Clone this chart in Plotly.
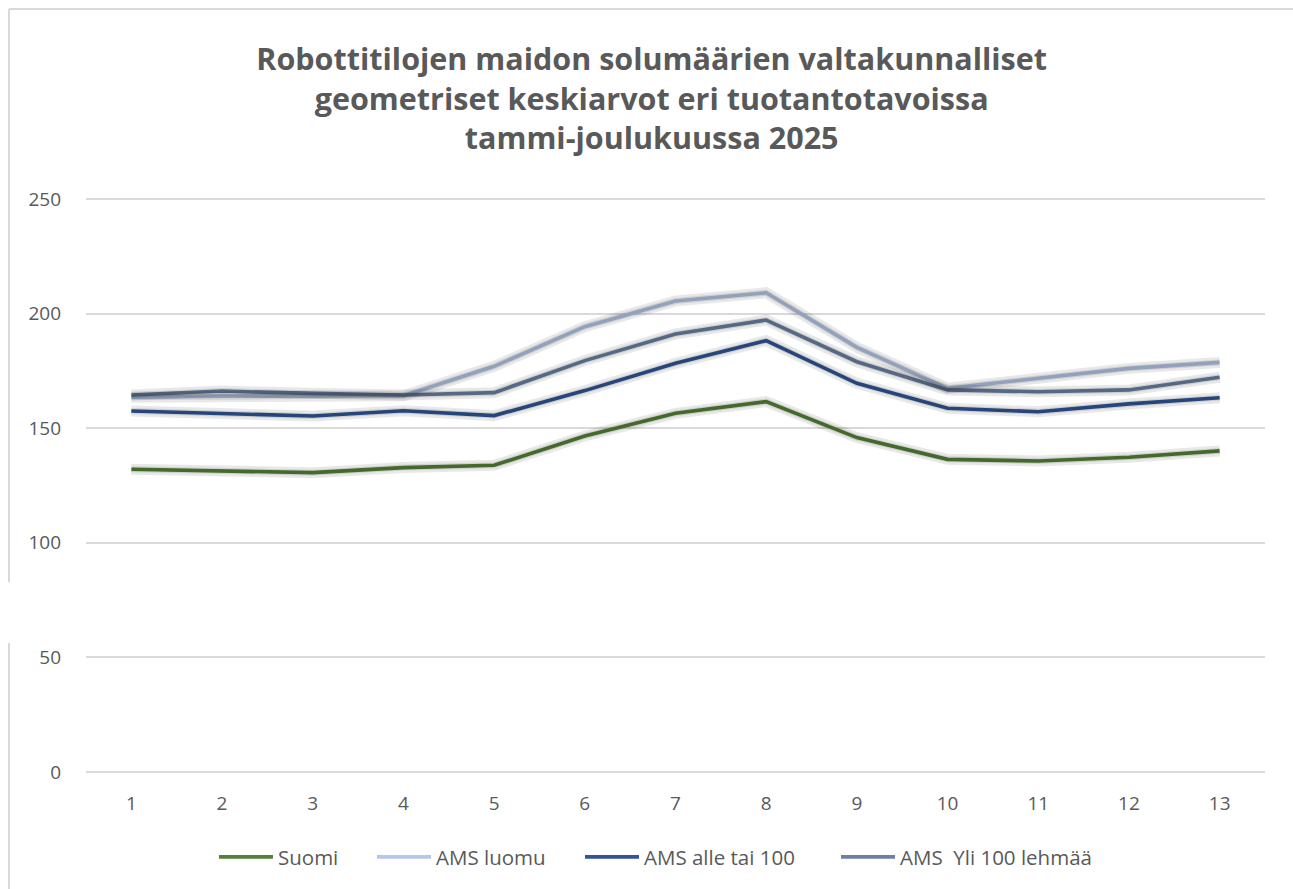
import plotly.graph_objects as go

W, H = 1293, 889

months = list(range(1, 14))
suomi = [132.1, 131.3, 130.6, 132.8, 133.8, 146.6, 156.5, 161.6, 145.9, 136.4, 135.7, 137.3, 140.1]
ams_luomu = [163.5, 164.0, 164.0, 164.2, 177.0, 194.3, 205.5, 209.1, 185.3, 167.4, 171.8, 176.1, 178.7]
ams_alle_100 = [157.5, 156.5, 155.3, 157.6, 155.5, 166.4, 178.3, 188.2, 169.6, 158.7, 157.2, 160.6, 163.3]
ams_yli_100 = [164.5, 166.2, 165.2, 164.5, 165.5, 179.5, 191.1, 197.2, 179.0, 166.7, 165.9, 166.7, 172.2]
y_ticks = [0, 50, 100, 150, 200, 250]

series = [
    ("Suomi", suomi, "#548235"),
    ("AMS luomu", ams_luomu, "#b4c7e7"),
    ("AMS alle tai 100", ams_alle_100, "#2f5597"),
    ("AMS  Yli 100 lehmää", ams_yli_100, "#6a81a3"),
]
legend_left_px = [218, 376, 584, 840]

title_text = ("Robottitilojen maidon solumäärien valtakunnalliset<br>"
              "geometriset keskiarvot eri tuotantotavoissa<br>"
              "tammi-joulukuussa 2025")

# main plot area in pixels: x 86..1265, value 250 at y=199, value 0 at y=772
PPU = (772 - 199) / 250.0
EXT = 3  # px of extra range so that the 0 and 250 grid lines are drawn
EU = EXT / PPU
L, T = 86, 199 - EXT
SX, SY = 3, 4  # shadow offset
Rm = W - 1265 - SX
Bm = H - (772 + EXT) - SY
pw = W - L - Rm
ph = H - T - Bm


def px(x):
    return (x - L) / pw


def py(y):
    return 1 - (y - T) / ph


fig = go.Figure()

# soft shadows on an offset overlay axis pair
for name, vals, col in series:
    fig.add_trace(go.Scatter(x=months, y=vals, mode="lines", xaxis="x2", yaxis="y2",
                             line=dict(color="rgba(0,0,0,0.09)", width=11),
                             showlegend=False, hoverinfo="skip"))
    fig.add_trace(go.Scatter(x=months, y=vals, mode="lines", xaxis="x2", yaxis="y2",
                             line=dict(color="rgba(0,0,0,0.10)", width=6),
                             showlegend=False, hoverinfo="skip"))

legend_font = dict(family="Open Sans, sans-serif", size=20.5, color="#595959")
legends = {}
for i, (name, vals, col) in enumerate(series):
    lg = "legend" if i == 0 else f"legend{i + 1}"
    fig.add_trace(go.Scatter(x=months, y=vals, mode="lines", name=name, legend=lg,
                             line=dict(color=col, width=3.6)))
    legends[lg] = dict(orientation="h", x=px(legend_left_px[i] - 4), xanchor="left",
                       y=py(857), yanchor="middle", font=legend_font, itemwidth=54,
                       bgcolor="rgba(0,0,0,0)", borderwidth=0)

axis_font = dict(family="Open Sans, sans-serif", size=19, color="#595959")
yr = [y_ticks[0] - EU, y_ticks[-1] + EU]

fig.update_layout(
    width=W, height=H,
    paper_bgcolor="white", plot_bgcolor="rgba(0,0,0,0)",
    margin=dict(l=L, r=Rm, t=T, b=Bm, pad=0),
    title=dict(text=title_text, x=0.504, xanchor="center", y=1 - 70 / H, yanchor="middle",
               font=dict(family="Open Sans, sans-serif", size=30.5, color="#595959", weight="bold")),
    xaxis=dict(range=[0.5, 13.5], tickvals=months, ticktext=[str(m) for m in months],
               showgrid=False, zeroline=False, showline=False, ticks="",
               tickfont=axis_font, ticklabelstandoff=int(18 - EXT), domain=[0, px(1265)]),
    yaxis=dict(range=yr, tickvals=y_ticks, showgrid=True,
               gridcolor="#d9d9d9", gridwidth=1.5, zeroline=False, showline=False,
               ticks="", tickfont=axis_font, ticklabelstandoff=24, domain=[py(772 + EXT), 1]),
    xaxis2=dict(range=[0.5, 13.5], overlaying="x", visible=False, domain=[px(L + SX), 1],
                anchor="y2"),
    yaxis2=dict(range=yr, overlaying="y", visible=False, domain=[0, py(T + SY)],
                anchor="x2"),
    showlegend=True,
    **legends,
)

bc = "#d9d9d9"
fig.add_shape(type="line", xref="paper", yref="paper", layer="below",
              x0=px(9), x1=px(W + 5), y0=py(9), y1=py(9), line=dict(color=bc, width=2))
fig.add_shape(type="line", xref="paper", yref="paper", layer="below",
              x0=px(9), x1=px(9), y0=py(9), y1=py(582), line=dict(color=bc, width=2))
fig.add_shape(type="line", xref="paper", yref="paper", layer="below",
              x0=px(9), x1=px(9), y0=py(643), y1=py(H + 5), line=dict(color=bc, width=2))

fig.write_html("out.html", config={"displayModeBar": False},
               post_script="document.body.style.margin='0';")
